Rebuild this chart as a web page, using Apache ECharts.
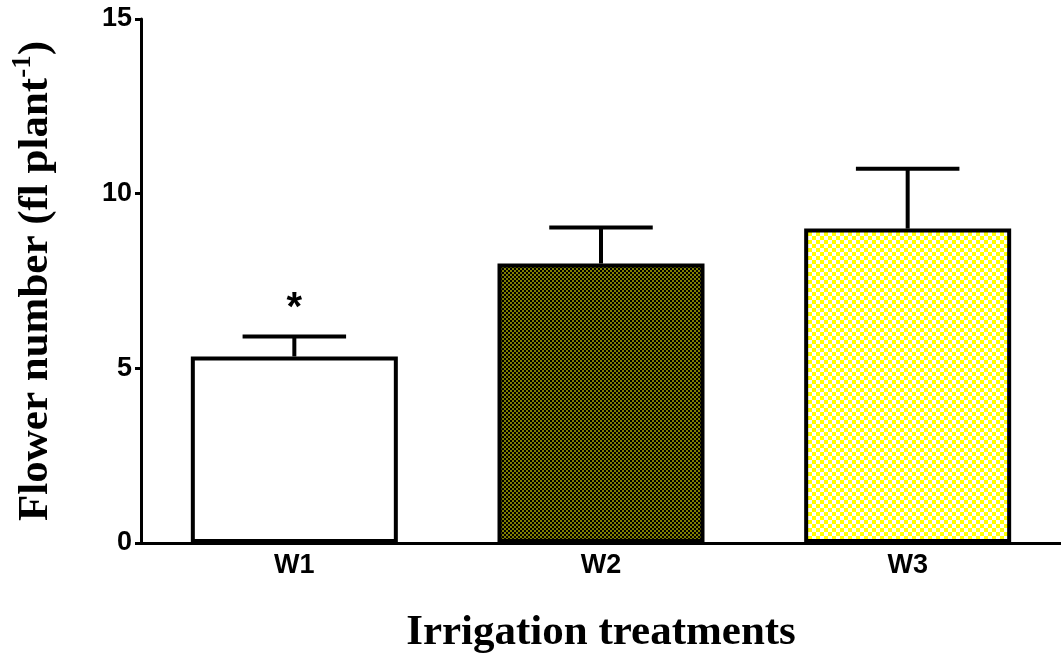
<!DOCTYPE html>
<html>
<head>
<meta charset="utf-8">
<script src="https://cdn.jsdelivr.net/npm/echarts@6/dist/echarts.min.js"></script>
<style>
  html, body { margin: 0; padding: 0; background: #fff; }
  #chart { width: 1061px; height: 659px; }
</style>
</head>
<body>
<div id="chart"></div>
<script>
const categories = ['W1', 'W2', 'W3'];
const means = [5.34, 8.0, 9.0];
const errors = [0.57, 1.03, 1.71];
const marks = ['*', '', ''];
const yTicks = [0, 5, 10, 15];

// checkered fills like the original plot
const checker = (size, a, b) => {
  const c = document.createElement('canvas');
  c.width = size * 2;
  c.height = size * 2;
  const ctx = c.getContext('2d');
  ctx.fillStyle = a;
  ctx.fillRect(0, 0, size * 2, size * 2);
  ctx.fillStyle = b;
  ctx.fillRect(0, 0, size, size);
  ctx.fillRect(size, size, size, size);
  return { image: c, repeat: 'repeat' };
};
const fills = ['#ffffff', checker(2, '#000000', '#808000'), checker(4, '#ffffff', '#ffff00')];

const BAR_RATIO = 0.675;
const chart = echarts.init(document.getElementById('chart'));
chart.setOption({
  animation: false,
  grid: { left: 141, right: -5, top: 19, bottom: 115 },
  xAxis: {
    type: 'category',
    data: categories,
    name: 'Irrigation treatments',
    nameLocation: 'middle',
    nameGap: 68,
    nameTextStyle: { fontFamily: 'Liberation Serif', fontWeight: 'bold', fontSize: 43, color: '#000' },
    axisLine: { lineStyle: { color: '#000', width: 3 } },
    axisTick: { alignWithLabel: true, length: 6, lineStyle: { color: '#000', width: 3 } },
    axisLabel: { fontFamily: 'Liberation Sans', fontWeight: 'bold', fontSize: 27, color: '#000', margin: 9 }
  },
  yAxis: {
    type: 'value',
    min: yTicks[0],
    max: yTicks[yTicks.length - 1],
    interval: 5,
    name: 'Flower number (fl plant{sup|-1})',
    nameLocation: 'middle',
    nameRotate: 90,
    nameGap: 80,
    nameTextStyle: {
      fontFamily: 'Liberation Serif', fontWeight: 'bold', fontSize: 43, color: '#000',
      rich: {
        sup: { fontFamily: 'Liberation Serif', fontWeight: 'bold', fontSize: 27, color: '#000', verticalAlign: 'top', padding: [0, 0, 24, 0] }
      }
    },
    splitLine: { show: false },
    axisLine: { show: true, lineStyle: { color: '#000', width: 3 } },
    axisTick: { show: true, length: 6, lineStyle: { color: '#000', width: 3 } },
    axisLabel: { fontFamily: 'Liberation Sans', fontWeight: 'bold', fontSize: 27, color: '#000', margin: 9 }
  },
  series: [
    {
      type: 'bar',
      barWidth: (BAR_RATIO * 100) + '%',
      data: means.map((v, i) => ({
        value: v,
        itemStyle: { color: fills[i], borderColor: '#000', borderWidth: 4 }
      })),
      z: 2
    },
    {
      type: 'custom',
      z: 3,
      data: means.map((v, i) => [i, v, v + errors[i], marks[i]]),
      encode: { x: 0, y: [1, 2] },
      renderItem(params, api) {
        const i = api.value(0);
        const bottom = api.coord([i, api.value(1)]);
        const top = api.coord([i, api.value(2)]);
        const half = api.size([1, 0])[0] * BAR_RATIO / 4;
        const style = { stroke: '#000', lineWidth: 4 };
        const children = [
          { type: 'line', shape: { x1: top[0], y1: bottom[1], x2: top[0], y2: top[1] }, style },
          { type: 'line', shape: { x1: top[0] - half, y1: top[1], x2: top[0] + half, y2: top[1] }, style }
        ];
        const mark = marks[params.dataIndex];
        if (mark) {
          children.push({
            type: 'text',
            style: {
              text: mark, x: top[0], y: top[1] - 28,
              align: 'center', verticalAlign: 'middle',
              font: 'bold 40px "Liberation Sans"', fill: '#000'
            }
          });
        }
        return { type: 'group', children };
      }
    }
  ]
});
</script>
</body>
</html>
